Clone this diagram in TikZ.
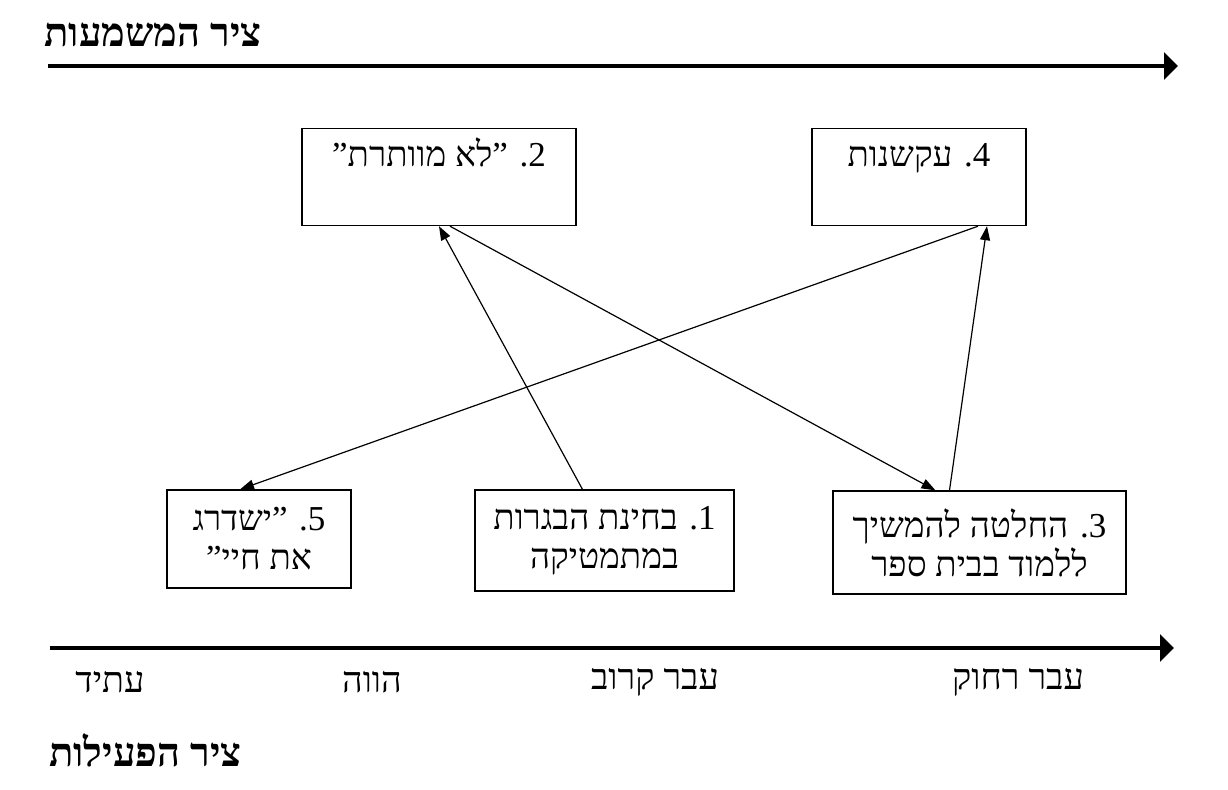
\documentclass[tikz,border=0pt]{standalone}
\usepackage{fontspec}
\setmainfont{Liberation Serif}
\newfontfamily\hebfont[Script=Hebrew]{Liberation Serif}
\TeXXeTstate=1
\usetikzlibrary{arrows.meta,calc}
\tikzset{
    box/.style={draw, line width=0.6pt, inner sep=0pt, align=center,
                font=\hebfont\fontsize{17.5}{19.5}\selectfont},
    topbox/.style={box, anchor=north, text height=19pt, text depth=29.5pt},
    lowbox/.style={box},
    flow/.style={-{Triangle[length=7pt,width=5pt]}, line width=0.6pt},
    axis/.style={-{Triangle[length=7pt,width=13.5pt]}, line width=2pt},
    tick/.style={font=\hebfont\fontsize{18}{20}\selectfont},
    heading/.style={anchor=east, inner sep=0pt,
                    font=\hebfont\bfseries\fontsize{20}{22}\selectfont},
}

\begin{document}
\begin{tikzpicture}[x=0.5pt,y=-0.5pt]

    \useasboundingbox (0,0) rectangle (1228,789);

    % axes
    \node[heading] (meaning) at (262,35) {\beginR ציר המשמעות\endR};
    \coordinate (ma) at (48,66);
    \coordinate (mb) at (1178,66);
    \draw[axis] (ma) -- (mb);

    \coordinate (aa) at (50,648);
    \coordinate (ab) at (1174,648);
    \draw[axis] (aa) -- (ab);
    \node[tick] (future) at (110,682) {\beginR עתיד\endR};
    \node[tick] (present) at (372,682) {\beginR הווה\endR};
    \node[tick] (nearpast) at (655,682) {\beginR עבר קרוב\endR};
    \node[tick] (farpast) at (1018,682) {\beginR עבר רחוק\endR};
    \node[heading] (action) at (242,750) {\beginR ציר הפעילות\endR};

    % boxes
    \node[topbox, minimum width=137pt] (b2) at (439,128) {\beginR 2. ”לא מוותרת”\endR};
    \node[topbox, minimum width=107pt] (b4) at (919,128) {\beginR 4. עקשנות\endR};
    \node[lowbox, minimum width=92pt, minimum height=49pt] (b5) at (259,539)
        {\beginR 5. ”ישדרג\endR\\\beginR את חיי”\endR};
    \node[lowbox, minimum width=129.5pt, minimum height=50.5pt] (b1) at (604.5,540.5)
        {\beginR 1. בחינת הבגרות\endR\\\beginR במתמטיקה\endR};
    \node[lowbox, minimum width=146.5pt, minimum height=51.5pt] (b3) at (979.5,542.5)
        {\beginR 3. החלטה להמשיך\endR\\\beginR ללמוד בבית ספר\endR};

    \draw[flow] ([xshift=-11pt]b1.north) -- (b2.south);
    \draw[flow] ([xshift=5.5pt]b2.south) -- ([xshift=-22pt]b3.north);
    \draw[flow] ([xshift=-15pt]b3.north) -- ([xshift=34pt]b4.south);
    \draw[flow] ([xshift=29.5pt]b4.south) -- ([xshift=-9.5pt]b5.north);

\end{tikzpicture}
\end{document}
